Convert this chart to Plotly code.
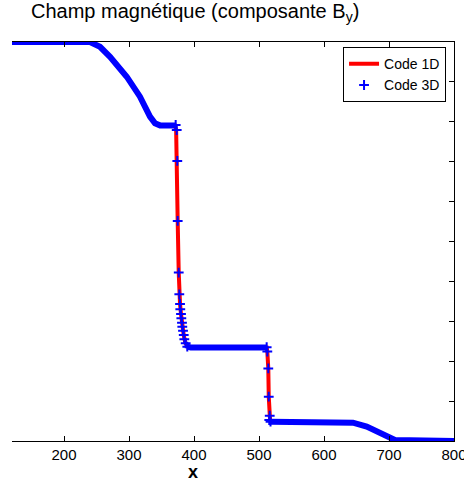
import plotly.graph_objects as go

# ---- data (x position, B_y value) ----
# 1D code: continuous profile
x_1d = [120, 240, 255.4, 270.8, 296.5, 316.9, 332.3, 340.0, 347.7, 371.0, 372.5, 373.4,
        374.3, 374.9, 376.5, 377.4, 378.5, 380.0, 382.0, 384.2, 386.5, 389.7, 395,
        511.8, 512.8, 514.3, 515.0, 516.0, 517.0, 518.5, 560, 600, 632, 644.6, 665.7,
        681.1, 696.5, 709.2, 800]
y_1d = [1.0, 1.0, 0.976, 0.926, 0.826, 0.726, 0.626, 0.592, 0.582, 0.582, 0.56, 0.45,
        0.30, 0.10, -0.156, -0.265, -0.313, -0.363, -0.427, -0.469, -0.505, -0.527, -0.531,
        -0.531, -0.552, -0.636, -0.778, -0.86, -0.893, -0.903, -0.904, -0.905, -0.906,
        -0.908, -0.928, -0.953, -0.978, -0.995, -1.0]

# 3D code: dense smooth parts (drawn as a thick band of overlapping markers)
x_3d_dense = [120, 240, 255.4, 270.8, 296.5, 316.9, 332.3, 340.0, 347.7, 371.8, None,
              389.7, 395, 450, 511.8, None,
              517.7, 560, 600, 632, 644.6, 665.7, 681.1, 696.5, 709.2, 800]
y_3d_dense = [1.0, 1.0, 0.976, 0.926, 0.826, 0.726, 0.626, 0.592, 0.582, 0.582, None,
              -0.527, -0.531, -0.531, -0.531, None,
              -0.903, -0.904, -0.905, -0.906, -0.908, -0.928, -0.953, -0.978, -0.995, -1.0]

# 3D code: individual points visible in the jumps
x_3d_pts = [371.8, 373.4, 374.3, 374.9, 376.5, 377.4, 378.5, 378.9, 380.0, 380.5, 381.5,
            382.0, 383.1, 384.2, 385.1, 387.2, 389.7,
            511.8, 512.8, 514.3, 515.0, 516.5, 515.8, 517.7]
y_3d_pts = [0.584, 0.559, 0.404, 0.103, -0.156, -0.265, -0.313, -0.340, -0.363, -0.385,
            -0.407, -0.427, -0.447, -0.469, -0.490, -0.510, -0.527,
            -0.530, -0.552, -0.636, -0.778, -0.873, -0.895, -0.903]

y_ticks = [-1, -0.8, -0.6, -0.4, -0.2, 0, 0.2, 0.4, 0.6, 0.8, 1]
x_ticks = [200, 300, 400, 500, 600, 700, 800]

FONT = "Liberation Sans, Arial, Helvetica, sans-serif"

fig = go.Figure()
fig.add_trace(go.Scatter(x=x_1d, y=y_1d, mode="lines", name="Code 1D",
                         line=dict(color="#FF0000", width=4)))
fig.add_trace(go.Scatter(x=x_3d_dense, y=y_3d_dense, mode="lines", showlegend=False,
                         line=dict(color="#0000FF", width=6), connectgaps=False,
                         hoverinfo="skip"))
fig.add_trace(go.Scatter(x=x_3d_pts, y=y_3d_pts, mode="markers", name="Code 3D",
                         marker=dict(symbol="cross-thin", size=7, color="#0000FF",
                                     line=dict(color="#0000FF", width=2))))

fig.update_layout(
    width=464, height=484,
    margin=dict(l=12, r=10, t=42, b=43, autoexpand=False),
    paper_bgcolor="white", plot_bgcolor="white",
    font=dict(family=FONT, size=15, color="black"),
    showlegend=True,
    legend=dict(x=0.982, y=0.987, xanchor="right", yanchor="top",
                bgcolor="white", bordercolor="black", borderwidth=1,
                font=dict(size=14, family=FONT), tracegroupgap=0,
                itemwidth=30),
    xaxis=dict(range=[120, 800], tickvals=x_ticks, ticks="inside", ticklen=5,
               tickcolor="black", showline=True, linecolor="black", linewidth=1,
               mirror="ticks", showgrid=False, zeroline=False,
               ticklabeloverflow="allow", automargin=False,
               tickfont=dict(size=15, family=FONT)),
    yaxis=dict(range=[-1, 1], tickvals=y_ticks, ticks="inside", ticklen=5,
               tickcolor="black", showline=True, linecolor="black", linewidth=1,
               side="right", showticklabels=False, showgrid=False, zeroline=False,
               automargin=False),
    annotations=[
        dict(text="Champ magnétique (composante B<sub>y</sub>)", xref="paper", yref="paper",
             x=0.413, y=1.073, xanchor="center", yanchor="middle", showarrow=False,
             font=dict(size=20, family=FONT, color="black")),
        dict(text="<b>x</b>", xref="paper", yref="paper", x=0.4095, y=-0.0777,
             xanchor="center", yanchor="middle", showarrow=False,
             font=dict(size=18, family=FONT, color="black")),
    ],
)

fig.write_html("out.html", config={"displayModeBar": False},
               post_script="document.body.style.margin='0';")
